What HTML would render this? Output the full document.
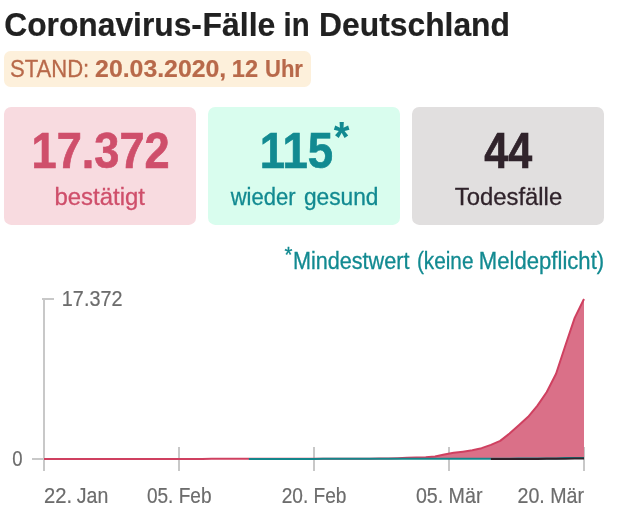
<!DOCTYPE html>
<html lang="de">
<head>
<meta charset="utf-8">
<title>Coronavirus-Fälle in Deutschland</title>
<style>
html,body{margin:0;padding:0;background:#fff;}
body{width:626px;height:522px;overflow:hidden;font-family:"Liberation Sans",sans-serif;}
svg{display:block;}
text{font-family:"Liberation Sans",sans-serif;}
.b{font-weight:bold;}
</style>
</head>
<body>
<svg width="626" height="522" viewBox="0 0 626 522">
<rect width="626" height="522" fill="#ffffff"/>
<!-- badge -->
<rect x="4" y="51" width="307" height="36" rx="6.5" ry="6.5" fill="#fdf0db"/>
<!-- boxes -->
<rect x="4" y="106.9" width="192" height="118" rx="7.2" ry="7.2" fill="#f8dbe0"/>
<rect x="208" y="106.9" width="192" height="118" rx="7.2" ry="7.2" fill="#d9fdee"/>
<rect x="412" y="106.9" width="192" height="118" rx="7.2" ry="7.2" fill="#e1dfdf"/>
<!-- chart axes -->
<g fill="#c8c8c8">
<rect x="43" y="298" width="2" height="173"/>
<rect x="42" y="298" width="12" height="2"/>
<rect x="32" y="458" width="12" height="2"/>
<rect x="178" y="447" width="2" height="24"/>
<rect x="313" y="447" width="2" height="24"/>
<rect x="448" y="447" width="2" height="24"/>
<rect x="583" y="447" width="2" height="24"/>
</g>
<path d="M44.00,459.00 L53.31,459.00 L62.62,459.00 L71.93,459.00 L81.24,459.00 L90.55,458.99 L99.86,458.96 L109.17,458.96 L118.48,458.96 L127.79,458.95 L137.10,458.93 L146.41,458.91 L155.72,458.89 L165.03,458.89 L174.34,458.89 L183.66,458.89 L192.97,458.88 L202.28,458.88 L211.59,458.87 L220.90,458.87 L230.21,458.85 L239.52,458.85 L248.83,458.85 L258.14,458.85 L267.45,458.85 L276.76,458.85 L286.07,458.85 L295.38,458.85 L304.69,458.85 L314.00,458.85 L323.31,458.85 L332.62,458.85 L341.93,458.85 L351.24,458.85 L360.55,458.84 L369.86,458.75 L379.17,458.58 L388.48,458.56 L397.79,458.27 L407.10,457.80 L416.41,457.54 L425.72,457.19 L435.03,456.59 L444.34,454.56 L453.66,452.83 L462.97,451.64 L472.28,450.25 L481.59,448.17 L490.90,444.91 L500.21,440.89 L509.52,433.58 L518.83,425.15 L528.14,416.77 L537.45,405.63 L546.76,392.02 L556.07,373.74 L565.38,345.47 L574.69,317.90 L584.00,299.00 L584.00,459.00 L44.00,459.00 Z" fill="#da7088"/>
<path d="M44.00,459.00 L53.31,459.00 L62.62,459.00 L71.93,459.00 L81.24,459.00 L90.55,458.99 L99.86,458.96 L109.17,458.96 L118.48,458.96 L127.79,458.95 L137.10,458.93 L146.41,458.91 L155.72,458.89 L165.03,458.89 L174.34,458.89 L183.66,458.89 L192.97,458.88 L202.28,458.88 L211.59,458.87 L220.90,458.87 L230.21,458.85 L239.52,458.85 L248.83,458.85 L258.14,458.85 L267.45,458.85 L276.76,458.85 L286.07,458.85 L295.38,458.85 L304.69,458.85 L314.00,458.85 L323.31,458.85 L332.62,458.85 L341.93,458.85 L351.24,458.85 L360.55,458.84 L369.86,458.75 L379.17,458.58 L388.48,458.56 L397.79,458.27 L407.10,457.80 L416.41,457.54 L425.72,457.19 L435.03,456.59 L444.34,454.56 L453.66,452.83 L462.97,451.64 L472.28,450.25 L481.59,448.17 L490.90,444.91 L500.21,440.89 L509.52,433.58 L518.83,425.15 L528.14,416.77 L537.45,405.63 L546.76,392.02 L556.07,373.74 L565.38,345.47 L574.69,317.90 L584.00,299.00" fill="none" stroke="#cf4060" stroke-width="2" stroke-linejoin="round"/>
<path d="M248.83,458.99 L258.14,458.99 L267.45,458.99 L276.76,458.99 L286.07,458.99 L295.38,458.89 L304.69,458.89 L314.00,458.89 L323.31,458.87 L332.62,458.87 L341.93,458.87 L351.24,458.87 L360.55,458.87 L369.86,458.86 L379.17,458.85 L388.48,458.85 L397.79,458.85 L407.10,458.85 L416.41,458.85 L425.72,458.85 L435.03,458.85 L444.34,458.85 L453.66,458.84 L462.97,458.83 L472.28,458.83 L481.59,458.83 L490.90,458.83 L500.21,458.77 L509.52,458.77 L518.83,458.58 L528.14,458.58 L537.45,458.58 L546.76,458.38 L556.07,458.38 L565.38,458.03 L574.69,457.96 L584.00,457.94" fill="none" stroke="#14868b" stroke-width="2"/>
<path d="M490.90,458.98 L500.21,458.97 L509.52,458.97 L518.83,458.94 L528.14,458.92 L537.45,458.90 L546.76,458.84 L556.07,458.78 L565.38,458.74 L574.69,458.59 L584.00,458.59" fill="none" stroke="#30232b" stroke-width="2"/>
<!-- texts -->
<text xml:space="preserve"><tspan id="t1" x="4.25" y="35.5" font-size="33" font-weight="bold" fill="#212121" stroke="#212121" stroke-width="0.2" textLength="197.69" lengthAdjust="spacingAndGlyphs">Coronavirus-</tspan><tspan id="t2" x="202.57" y="35.5" font-size="33" font-weight="bold" fill="#212121" stroke="#212121" stroke-width="0.2" textLength="72.76" lengthAdjust="spacingAndGlyphs">Fälle</tspan> <tspan id="t3" x="283.50" y="35.5" font-size="33" font-weight="bold" fill="#212121" stroke="#212121" stroke-width="0.2" textLength="26.13" lengthAdjust="spacingAndGlyphs">in</tspan> <tspan id="t4" x="319.07" y="35.5" font-size="33" font-weight="bold" fill="#212121" stroke="#212121" stroke-width="0.2" textLength="190.90" lengthAdjust="spacingAndGlyphs">Deutschland</tspan></text>
<text xml:space="preserve"><tspan id="stand" x="10.00" y="76.6" font-size="23.3" font-weight="normal" fill="#b8694a" stroke="#b8694a" stroke-width="0.3" textLength="79.25" lengthAdjust="spacingAndGlyphs">STAND:</tspan> <tspan id="d1" x="95.10" y="76.6" font-size="23.3" font-weight="bold" fill="#b8694a" stroke="#b8694a" stroke-width="0.2" textLength="131.16" lengthAdjust="spacingAndGlyphs">20.03.2020,</tspan> <tspan id="d2" x="231.88" y="76.6" font-size="23.3" font-weight="bold" fill="#b8694a" stroke="#b8694a" stroke-width="0.2" textLength="26.20" lengthAdjust="spacingAndGlyphs">12</tspan> <tspan id="d3" x="264.97" y="76.6" font-size="23.3" font-weight="bold" fill="#b8694a" stroke="#b8694a" stroke-width="0.2" textLength="37.95" lengthAdjust="spacingAndGlyphs">Uhr</tspan></text>
<text id="n1" class="b" x="31.60" y="167.5" font-size="50.6" fill="#cf4f6b" stroke="#cf4f6b" stroke-width="0.7" textLength="138.12" lengthAdjust="spacingAndGlyphs">17.372</text>
<text id="l1" x="54.43" y="204.5" font-size="24.4" fill="#cf4f6b" stroke="#cf4f6b" stroke-width="0.3" textLength="90.54" lengthAdjust="spacingAndGlyphs">bestätigt</text>
<text xml:space="preserve"><tspan id="n2" x="259.63" y="167.5" font-size="50.6" font-weight="bold" fill="#128a91" stroke="#128a91" stroke-width="0.7" textLength="73.38" lengthAdjust="spacingAndGlyphs">115</tspan><tspan id="a2" x="333.76" y="151.0" font-size="42" font-weight="bold" fill="#128a91" textLength="15.75" lengthAdjust="spacingAndGlyphs">*</tspan></text>
<text xml:space="preserve"><tspan id="l2a" x="230.68" y="204.5" font-size="24.4" font-weight="normal" fill="#128a91" stroke="#128a91" stroke-width="0.3" textLength="64.82" lengthAdjust="spacingAndGlyphs">wieder</tspan> <tspan id="l2b" x="303.90" y="204.5" font-size="24.4" font-weight="normal" fill="#128a91" stroke="#128a91" stroke-width="0.3" textLength="74.53" lengthAdjust="spacingAndGlyphs">gesund</tspan></text>
<text id="n3" class="b" x="484.29" y="167.5" font-size="50.6" fill="#30232b" stroke="#30232b" stroke-width="0.7" textLength="47.93" lengthAdjust="spacingAndGlyphs">44</text>
<text id="l3" x="454.76" y="204.5" font-size="24.4" fill="#30232b" stroke="#30232b" stroke-width="0.3" textLength="107.42" lengthAdjust="spacingAndGlyphs">Todesfälle</text>
<text xml:space="preserve"><tspan id="na" x="284.61" y="262.4" font-size="22" font-weight="normal" fill="#128a91" stroke="#128a91" stroke-width="0.3" textLength="7.94" lengthAdjust="spacingAndGlyphs">*</tspan><tspan id="no1" x="292.90" y="268.8" font-size="24.4" font-weight="normal" fill="#128a91" stroke="#128a91" stroke-width="0.3" textLength="116.54" lengthAdjust="spacingAndGlyphs">Mindestwert</tspan> <tspan id="no2" x="416.94" y="268.8" font-size="24.4" font-weight="normal" fill="#128a91" stroke="#128a91" stroke-width="0.3" textLength="56.51" lengthAdjust="spacingAndGlyphs">(keine</tspan> <tspan id="no3" x="478.86" y="268.8" font-size="24.4" font-weight="normal" fill="#128a91" stroke="#128a91" stroke-width="0.3" textLength="125.30" lengthAdjust="spacingAndGlyphs">Meldepflicht)</tspan></text>
<text id="ymax" x="61.87" y="306.0" font-size="22.4" fill="#6c6c6c" stroke="#6c6c6c" stroke-width="0.2" textLength="60.55" lengthAdjust="spacingAndGlyphs">17.372</text>
<text id="y0" x="12.28" y="466.0" font-size="22.4" fill="#6c6c6c" stroke="#6c6c6c" stroke-width="0.2" textLength="10.30" lengthAdjust="spacingAndGlyphs">0</text>
<text xml:space="preserve"><tspan id="x1a" x="44.05" y="503.0" font-size="22.4" font-weight="normal" fill="#6c6c6c" stroke="#6c6c6c" stroke-width="0.2" textLength="28.11" lengthAdjust="spacingAndGlyphs">22.</tspan> <tspan id="x1b" x="76.83" y="503.0" font-size="22.4" font-weight="normal" fill="#6c6c6c" stroke="#6c6c6c" stroke-width="0.2" textLength="31.45" lengthAdjust="spacingAndGlyphs">Jan</tspan></text>
<text id="x2" x="146.91" y="503.0" font-size="22.4" fill="#6c6c6c" stroke="#6c6c6c" stroke-width="0.2" textLength="64.57" lengthAdjust="spacingAndGlyphs">05. Feb</text>
<text id="x3" x="281.65" y="503.0" font-size="22.4" fill="#6c6c6c" stroke="#6c6c6c" stroke-width="0.2" textLength="64.79" lengthAdjust="spacingAndGlyphs">20. Feb</text>
<text id="x4" x="415.89" y="503.0" font-size="22.4" fill="#6c6c6c" stroke="#6c6c6c" stroke-width="0.2" textLength="66.56" lengthAdjust="spacingAndGlyphs">05. Mär</text>
<text id="x5" x="517.47" y="503.0" font-size="22.4" fill="#6c6c6c" stroke="#6c6c6c" stroke-width="0.2" textLength="66.53" lengthAdjust="spacingAndGlyphs">20. Mär</text>
</svg>
</body>
</html>
